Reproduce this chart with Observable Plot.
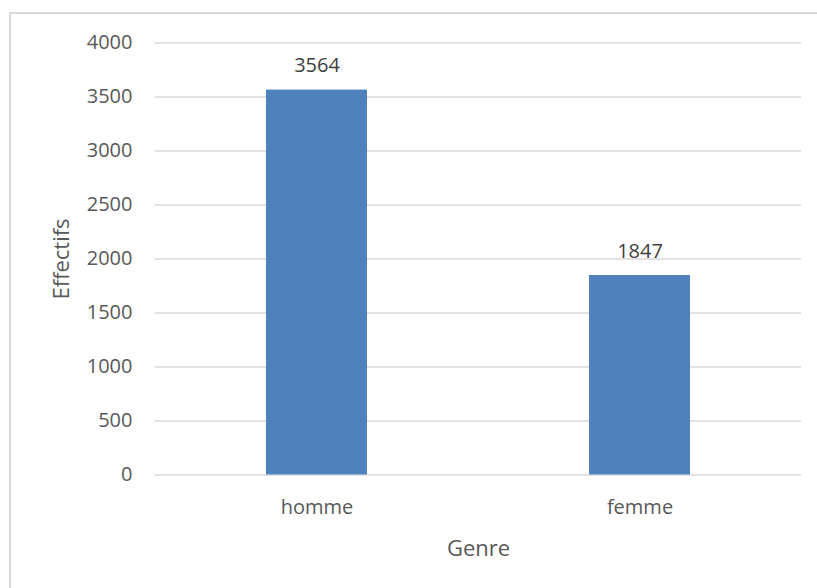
<!DOCTYPE html>
<html>
<head>
<meta charset="utf-8">
<script src="https://cdn.jsdelivr.net/npm/d3@7"></script>
<script src="https://cdn.jsdelivr.net/npm/@observablehq/plot@0.6"></script>
<style>
  html, body { margin: 0; padding: 0; background: #fff; }
  #wrap { position: relative; width: 817px; height: 588px; overflow: hidden; }
  #frame { position: absolute; left: 9px; top: 12px; right: -5px; bottom: -5px;
           border-left: 2px solid #d9d9d9; border-top: 2px solid #d9d9d9; }
  #chart { position: absolute; left: 0; top: 0; }
</style>
</head>
<body>
<div id="wrap"><div id="frame"></div><div id="chart"></div></div>
<script>
const genres = ["homme", "femme"];
const effectifs = [3564, 1847];
const yTicks = [0, 500, 1000, 1500, 2000, 2500, 3000, 3500, 4000];

const data = genres.map((g, i) => ({genre: g, n: effectifs[i]}));

const chart = Plot.plot({
  width: 817,
  height: 588,
  marginLeft: 155,
  marginRight: 16,
  marginTop: 42.5,
  marginBottom: 113.5,
  style: {fontFamily: "'Open Sans', sans-serif", fontSize: "20px", color: "#595959", background: "transparent"},
  x: {domain: genres, paddingInner: 0.687, paddingOuter: 0.3435},
  y: {domain: [0, 4000]},
  marks: [
    Plot.gridY(yTicks, {stroke: "#d9d9d9", strokeOpacity: 1, strokeWidth: 1.5}),
    Plot.barY(data, {x: "genre", y: "n", fill: "#4f81bd"}),
    Plot.text(data, {x: "genre", y: "n", text: d => String(d.n), dy: -24, fill: "#404040", fontSize: 20}),
    Plot.axisY(yTicks, {tickSize: 0, tickPadding: 23, tickFormat: d => String(d), fontSize: 20, label: null, fill: "#595959"}),
    Plot.axisX({tickSize: 0, tickPadding: 25, fontSize: 20, label: null, fill: "#595959"}),
    Plot.text(["Effectifs"], {frameAnchor: "left", textAnchor: "middle", dx: -94, rotate: -90, fontSize: 22, fill: "#595959"}),
    Plot.text(["Genre"], {frameAnchor: "bottom", dy: 81, fontSize: 22, fill: "#595959"})
  ]
});
document.getElementById("chart").appendChild(chart);
</script>
</body>
</html>
